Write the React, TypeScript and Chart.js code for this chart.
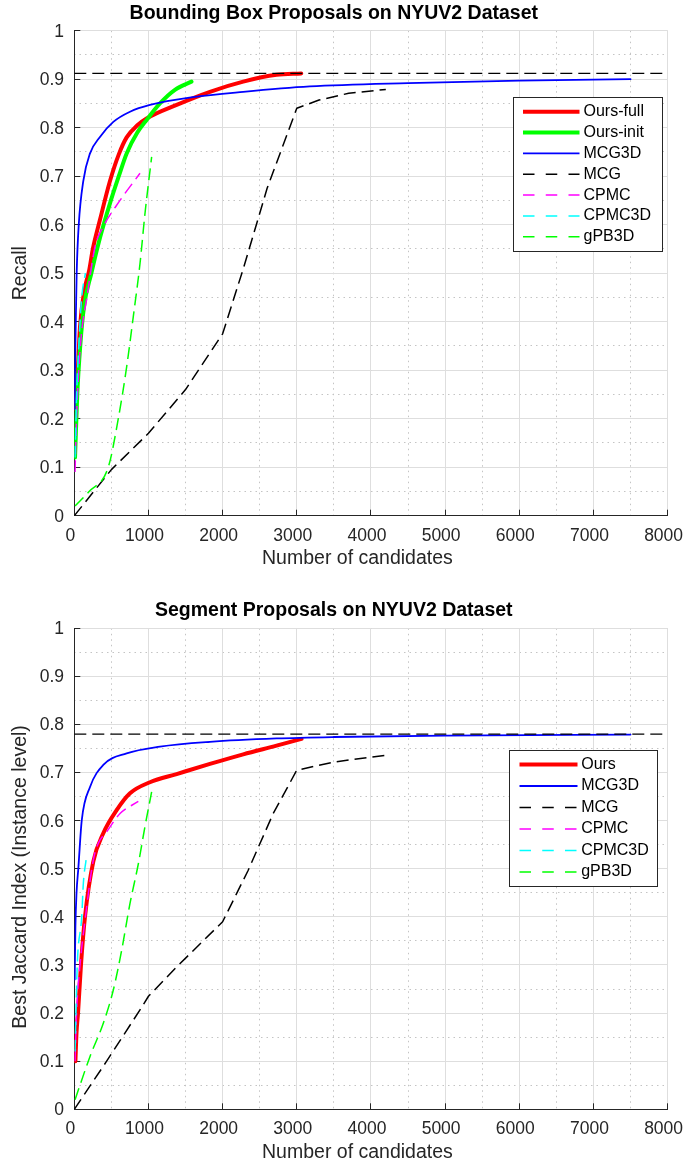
import React, { useEffect, useRef } from 'react';
import { Chart, registerables } from 'chart.js';

Chart.register(...registerables);

type Pt = [number, number];

// ---------- tick labels ----------
const xTickLabels = ['0', '1000', '2000', '3000', '4000', '5000', '6000', '7000', '8000'];
const yTickLabels = ['0', '0.1', '0.2', '0.3', '0.4', '0.5', '0.6', '0.7', '0.8', '0.9', '1'];

// ---------- Bounding box proposals (top chart) ----------
const bbOursFull: Pt[] = [[20, 0.22], [30, 0.25], [50, 0.31], [77, 0.39], [130, 0.46], [202, 0.507], [250, 0.55], [346, 0.61], [481, 0.69], [600, 0.745], [706, 0.78], [850, 0.805], [975, 0.819], [1380, 0.847], [1829, 0.874], [2278, 0.895], [2727, 0.909], [3060, 0.912]];
const bbOursInit: Pt[] = [[10, 0.12], [40, 0.25], [80, 0.35], [130, 0.43], [230, 0.5], [350, 0.575], [481, 0.644], [600, 0.7], [706, 0.747], [850, 0.79], [975, 0.816], [1155, 0.85], [1357, 0.878], [1580, 0.895]];
const bbMCG3D: Pt[] = [[5, 0.22], [10, 0.3], [20, 0.4], [32, 0.5], [60, 0.6], [121, 0.69], [212, 0.747], [346, 0.781], [526, 0.812], [751, 0.833], [1020, 0.847], [1600, 0.863], [2278, 0.874], [3176, 0.885], [4500, 0.892], [6000, 0.897], [7500, 0.9]];
const bbMCG: Pt[] = [[0, 0], [500, 0.095], [1000, 0.17], [1500, 0.26], [2000, 0.375], [2280, 0.51], [2600, 0.675], [3000, 0.84], [3300, 0.857], [3700, 0.871], [4200, 0.879]];
const bbCPMC: Pt[] = [[10, 0.09], [30, 0.2], [60, 0.3], [100, 0.38], [170, 0.45], [280, 0.555], [391, 0.596], [616, 0.65], [886, 0.706]];
const bbCPMC3D: Pt[] = [[10, 0.12], [30, 0.24], [60, 0.35], [100, 0.45], [150, 0.5]];
const bbGPB3D: Pt[] = [[10, 0.02], [200, 0.05], [458, 0.1], [593, 0.2], [706, 0.307], [795, 0.41], [886, 0.52], [953, 0.623], [1043, 0.74]];
const bbUpperBound: Pt[] = [[0, 0.912], [8000, 0.912]];

// ---------- Segment proposals (bottom chart) ----------
const segOurs: Pt[] = [[15, 0.1], [30, 0.16], [50, 0.2], [90, 0.3], [144, 0.4], [256, 0.515], [391, 0.574], [571, 0.622], [751, 0.657], [1020, 0.68], [1380, 0.697], [1829, 0.718], [2278, 0.738], [2727, 0.756], [3064, 0.77]];
const segMCG3D: Pt[] = [[5, 0.27], [15, 0.38], [30, 0.45], [54, 0.5], [100, 0.6], [212, 0.67], [391, 0.716], [706, 0.74], [1155, 0.754], [1829, 0.764], [2727, 0.771], [3500, 0.774], [5000, 0.777], [7500, 0.779]];
const segMCG: Pt[] = [[0, 0], [436, 0.1], [900, 0.21], [1000, 0.235], [1380, 0.296], [2000, 0.39], [2345, 0.497], [2682, 0.615], [3000, 0.705], [3500, 0.722], [4200, 0.736]];
const segCPMC: Pt[] = [[10, 0.1], [30, 0.2], [77, 0.3], [150, 0.4], [256, 0.518], [324, 0.553], [436, 0.577], [617, 0.615], [863, 0.64]];
const segCPMC3D: Pt[] = [[10, 0.12], [40, 0.3], [100, 0.4], [122, 0.47], [160, 0.52]];
const segGPB3D: Pt[] = [[10, 0.02], [212, 0.11], [391, 0.179], [526, 0.248], [639, 0.331], [751, 0.428], [863, 0.51], [953, 0.588], [1043, 0.66]];
const segUpperBound: Pt[] = [[0, 0.78], [8000, 0.78]];

const FONT = "'Liberation Sans', Arial, Helvetica, sans-serif";
const AXIS_COLOR = '#262626';

type Series = {
  label: string;
  points: Pt[];
  color: string;
  width: number;
  dashed: boolean;
  smooth: boolean;
  legend: boolean;
};

function toDataset(s: Series, i: number, n: number) {
  return {
    label: s.label,
    data: s.points.map(([x, y]) => ({ x, y })),
    borderColor: s.color,
    backgroundColor: s.color,
    borderWidth: s.width,
    borderDash: s.dashed ? [12, 6] : [],
    borderCapStyle: s.dashed ? 'butt' : 'round',
    borderJoinStyle: 'round',
    pointRadius: 0,
    pointHoverRadius: 0,
    fill: false,
    tension: 0,
    cubicInterpolationMode: s.smooth ? 'monotone' : 'default',
    order: n - i,
    showInLegend: s.legend,
  };
}

const boxLegend = {
  id: 'boxLegend',
  afterDraw(chart: any, _args: any, opts: any) {
    const { ctx, chartArea } = chart;
    const items = chart.data.datasets.filter((d: any) => d.showInLegend);
    const h = opts.padTop * 2 + (items.length - 1) * opts.rowGap;
    const left = Math.round(chartArea.right - opts.right - opts.width) + 0.5;
    const top = Math.round(chartArea.top + opts.top) + 0.5;
    ctx.save();
    ctx.fillStyle = '#ffffff';
    ctx.fillRect(left, top, opts.width, h);
    ctx.strokeStyle = AXIS_COLOR;
    ctx.lineWidth = 1;
    ctx.setLineDash([]);
    ctx.strokeRect(left, top, Math.round(opts.width), Math.round(h));
    items.forEach((d: any, i: number) => {
      const y = top + opts.padTop + i * opts.rowGap;
      ctx.save();
      ctx.strokeStyle = d.borderColor;
      ctx.lineWidth = d.borderWidth;
      ctx.lineCap = 'butt';
      ctx.setLineDash(d.borderDash && d.borderDash.length ? [11.5, 11.25] : []);
      ctx.beginPath();
      ctx.moveTo(left + opts.sampleStart, y);
      ctx.lineTo(left + opts.sampleStart + opts.sampleLength, y);
      ctx.stroke();
      ctx.restore();
      ctx.fillStyle = '#000000';
      ctx.font = `16px ${FONT}`;
      ctx.textBaseline = 'middle';
      ctx.textAlign = 'left';
      ctx.fillText(d.label, left + opts.textStart, y);
    });
    ctx.restore();
  },
};

type PanelSpec = {
  title: string;
  xTitle: string;
  yTitle: string;
  series: Series[];
  titlePadTop: number;
  titlePadBottom: number;
  xAxisHeight: number;
  xTitlePadBottom: number;
  legendBox: any;
};

function makeConfig(p: PanelSpec): any {
  return {
    type: 'line',
    data: { datasets: p.series.map((s, i) => toDataset(s, i, p.series.length)) },
    options: {
      responsive: false,
      animation: false,
      devicePixelRatio: 1,
      events: [],
      layout: { padding: { left: 0, right: 18.4, top: 0, bottom: 0 } },
      plugins: {
        legend: { display: false },
        tooltip: { enabled: false },
        title: {
          display: true,
          text: p.title,
          color: '#000000',
          font: { family: FONT, size: 19.5, weight: 'bold' },
          padding: { top: p.titlePadTop, bottom: p.titlePadBottom },
        },
        boxLegend: p.legendBox,
      },
      scales: {
        x: {
          type: 'linear',
          axis: 'x',
          position: 'bottom',
          min: 0,
          max: 8000,
          ticks: {
            stepSize: 1000,
            autoSkip: false,
            maxRotation: 0,
            padding: 15.5,
            labelOffset: -4,
            color: AXIS_COLOR,
            font: { family: FONT, size: 17.5 },
            callback: (_v: any, i: number) => xTickLabels[i],
          },
          grid: { color: '#dedede', lineWidth: 1, tickLength: -6, tickColor: AXIS_COLOR, tickWidth: 1, z: -1 },
          border: { display: true, color: AXIS_COLOR, width: 1 },
          title: {
            display: true,
            text: p.xTitle,
            color: AXIS_COLOR,
            font: { family: FONT, size: 19.5 },
            padding: { top: 0, bottom: p.xTitlePadBottom },
          },
          afterFit: (s: any) => {
            s.height = p.xAxisHeight;
            s.paddingLeft = 0;
            s.paddingRight = 0;
          },
        },
        xMinor: {
          type: 'linear',
          axis: 'x',
          position: 'bottom',
          min: 0,
          max: 8000,
          ticks: { display: false, stepSize: 500 },
          grid: { color: '#c4c4c4', lineWidth: 1, drawTicks: false, z: -2 },
          border: { display: false, dash: [1.5, 4] },
          afterFit: (s: any) => {
            s.height = 0;
            s.paddingLeft = 0;
            s.paddingRight = 0;
          },
        },
        y: {
          type: 'linear',
          axis: 'y',
          position: 'left',
          min: 0,
          max: 1,
          ticks: {
            stepSize: 0.1,
            autoSkip: false,
            padding: 16.3,
            labelOffset: 1,
            color: AXIS_COLOR,
            font: { family: FONT, size: 17.5 },
            callback: (_v: any, i: number) => yTickLabels[i],
          },
          grid: { color: '#dedede', lineWidth: 1, tickLength: -6, tickColor: AXIS_COLOR, tickWidth: 1, z: -1 },
          border: { display: true, color: AXIS_COLOR, width: 1 },
          title: {
            display: true,
            text: p.yTitle,
            color: AXIS_COLOR,
            font: { family: FONT, size: 19.5 },
            padding: { top: 9.1, bottom: 0 },
          },
          afterFit: (s: any) => {
            s.width = 74.3;
            s.paddingTop = 0;
            s.paddingBottom = 0;
          },
        },
        yMinor: {
          type: 'linear',
          axis: 'y',
          position: 'left',
          min: 0,
          max: 1,
          ticks: { display: false, stepSize: 0.05 },
          grid: { color: '#c4c4c4', lineWidth: 1, drawTicks: false, z: -2 },
          border: { display: false, dash: [1.5, 4] },
          afterFit: (s: any) => {
            s.width = 0;
            s.paddingTop = 0;
            s.paddingBottom = 0;
          },
        },
      },
    },
    plugins: [boxLegend],
  };
}

const topSpec: PanelSpec = {
  title: 'Bounding Box Proposals on NYUV2 Dataset',
  xTitle: 'Number of candidates     ',
  yTitle: 'Recall',
  series: [
    { label: 'Ours-full', points: bbOursFull, color: '#ff0000', width: 4, dashed: false, smooth: true, legend: true },
    { label: 'Ours-init', points: bbOursInit, color: '#00ff00', width: 4, dashed: false, smooth: true, legend: true },
    { label: 'MCG3D', points: bbMCG3D, color: '#0000ff', width: 1.8, dashed: false, smooth: true, legend: true },
    { label: 'MCG', points: bbMCG, color: '#000000', width: 1.5, dashed: true, smooth: false, legend: true },
    { label: 'CPMC', points: bbCPMC, color: '#ff00ff', width: 1.5, dashed: true, smooth: true, legend: true },
    { label: 'CPMC3D', points: bbCPMC3D, color: '#00ffff', width: 1.5, dashed: true, smooth: true, legend: true },
    { label: 'gPB3D', points: bbGPB3D, color: '#00ff00', width: 1.5, dashed: true, smooth: true, legend: true },
    { label: 'upper bound', points: bbUpperBound, color: '#000000', width: 1.2, dashed: true, smooth: false, legend: false },
  ],
  titlePadTop: 2,
  titlePadBottom: 5.3,
  xAxisHeight: 68.3,
  xTitlePadBottom: 13.4,
  legendBox: { right: 5.3, top: 66, width: 149, padTop: 14.2, rowGap: 20.85, sampleStart: 9.5, sampleLength: 56.5, textStart: 70 },
};

const bottomSpec: PanelSpec = {
  title: 'Segment Proposals on NYUV2 Dataset',
  xTitle: 'Number of candidates     ',
  yTitle: 'Best Jaccard Index (Instance level)   ',
  series: [
    { label: 'Ours', points: segOurs, color: '#ff0000', width: 4, dashed: false, smooth: true, legend: true },
    { label: 'MCG3D', points: segMCG3D, color: '#0000ff', width: 1.8, dashed: false, smooth: true, legend: true },
    { label: 'MCG', points: segMCG, color: '#000000', width: 1.5, dashed: true, smooth: false, legend: true },
    { label: 'CPMC', points: segCPMC, color: '#ff00ff', width: 1.5, dashed: true, smooth: true, legend: true },
    { label: 'CPMC3D', points: segCPMC3D, color: '#00ffff', width: 1.5, dashed: true, smooth: true, legend: true },
    { label: 'gPB3D', points: segGPB3D, color: '#00ff00', width: 1.5, dashed: true, smooth: true, legend: true },
    { label: 'upper bound', points: segUpperBound, color: '#000000', width: 1.2, dashed: true, smooth: false, legend: false },
  ],
  titlePadTop: 14.8,
  titlePadBottom: 6.1,
  xAxisHeight: 59.7,
  xTitlePadBottom: 4.8,
  legendBox: { right: 10.3, top: 121.7, width: 148, padTop: 14, rowGap: 21.5, sampleStart: 10, sampleLength: 58, textStart: 71.7 },
};

function ChartPanel({ spec, height }: { spec: PanelSpec; height: number }) {
  const ref = useRef<HTMLCanvasElement | null>(null);
  useEffect(() => {
    if (!ref.current) return;
    const chart = new Chart(ref.current, makeConfig(spec));
    return () => chart.destroy();
  }, [spec]);
  return <canvas ref={ref} width={686} height={height} style={{ display: 'block', width: 686, height }} />;
}

export default function App() {
  return (
    <div style={{ position: 'absolute', left: 0, top: 0, width: 686, height: 1169, background: '#ffffff' }}>
      <ChartPanel spec={topSpec} height={584} />
      <ChartPanel spec={bottomSpec} height={585} />
    </div>
  );
}
